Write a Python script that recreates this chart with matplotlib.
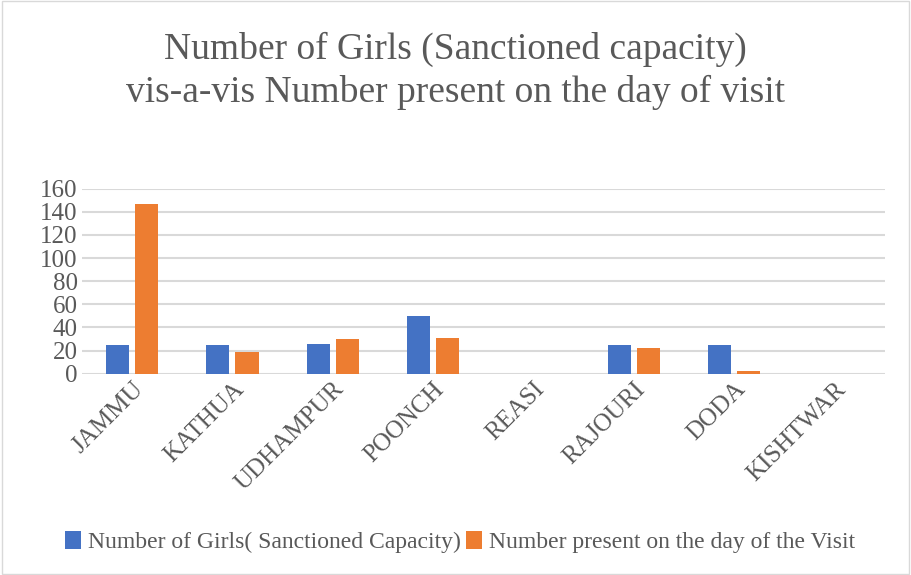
import matplotlib
matplotlib.use("Agg")
import matplotlib.pyplot as plt
import numpy as np

categories = ["JAMMU", "KATHUA", "UDHAMPUR", "POONCH", "REASI", "RAJOURI", "DODA", "KISHTWAR"]
sanctioned = [25, 25, 26, 50, 0, 25, 25, 0]
present = [147, 19, 30, 31, 0, 22, 2, 0]
yticks = [0, 20, 40, 60, 80, 100, 120, 140, 160]

plt.rcParams['font.family'] = ['Liberation Serif', 'DejaVu Serif']

fig = plt.figure(figsize=(9.11, 5.75), dpi=100)
ax = fig.add_axes([0.09, 0.35, 0.881, 0.322])

x = np.arange(len(categories))
w = 0.23
off = 0.145
ax.bar(x - off, sanctioned, w, color="#4472C4", label="Number of Girls( Sanctioned Capacity)", zorder=3)
ax.bar(x + off, present, w, color="#ED7D31", label="Number present on the day of the Visit", zorder=3)

ax.set_xlim(-0.5, len(categories) - 0.5)
ax.set_ylim(0, 160)
ax.set_yticks(yticks)
ax.set_yticklabels([str(v) for v in yticks], fontsize=18, color="#595959")
ax.set_xticks(x)
ax.set_xticklabels(categories, rotation=45, ha="right", rotation_mode="anchor", fontsize=18, color="#595959")
ax.tick_params(axis="both", length=0, pad=3)
ax.grid(axis="y", color="#d9d9d9", linewidth=1.5, zorder=0)
for s in ax.spines.values():
    s.set_visible(False)

fig.text(0.5, 0.945, "Number of Girls (Sanctioned capacity)\nvis-a-vis Number present on the day of visit",
         ha="center", va="top", fontsize=27, color="#595959", linespacing=1.3)

leg = fig.legend(loc="center", bbox_to_anchor=(0.505, 0.058), ncol=2, frameon=False,
                 fontsize=17, handlelength=0.7, handleheight=0.8, columnspacing=0.2, handletextpad=0.3)
for t in leg.get_texts():
    t.set_color("#595959")

border = plt.Rectangle((0.002, 0.002), 0.996, 0.996, transform=fig.transFigure, fill=False,
                       edgecolor="#d9d9d9", linewidth=1)
fig.patches.append(border)

fig.savefig("out.png", dpi=100)
